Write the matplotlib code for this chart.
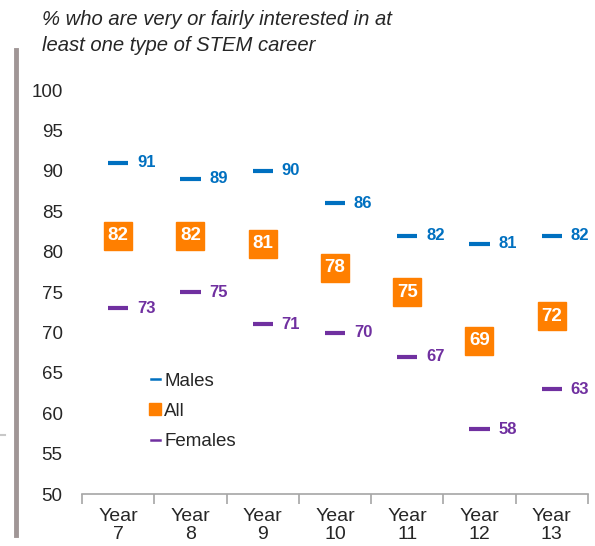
import matplotlib.pyplot as plt
from matplotlib.lines import Line2D

plt.rcParams['font.family'] = ['Liberation Sans', 'DejaVu Sans']

years = ['Year\n7', 'Year\n8', 'Year\n9', 'Year\n10', 'Year\n11', 'Year\n12', 'Year\n13']
males = [91, 89, 90, 86, 82, 81, 82]
all_pupils = [82, 82, 81, 78, 75, 69, 72]
females = [73, 75, 71, 70, 67, 58, 63]

blue = '#0070C0'
orange = '#FF7F00'
purple = '#7030A0'

fig = plt.figure(figsize=(5.95, 5.46), dpi=100)
ax = fig.add_axes([0.138, 0.095, 0.850, 0.740])

x = list(range(len(years)))
half = 0.14
ax.hlines(males, [i - half for i in x], [i + half for i in x], color=blue, lw=3)
ax.hlines(females, [i - half for i in x], [i + half for i in x], color=purple, lw=3)
ax.plot(x, all_pupils, 's', color=orange, ms=20, ls='none')

for i in x:
    ax.text(i + 0.26, males[i], str(males[i]), color=blue, fontsize=12,
            fontweight='bold', ha='left', va='center')
    ax.text(i + 0.26, females[i], str(females[i]), color=purple, fontsize=12,
            fontweight='bold', ha='left', va='center')
    ax.text(i, all_pupils[i], str(all_pupils[i]), color='white', fontsize=13.5,
            fontweight='bold', ha='center', va='center')

ax.set_xlim(-0.5, 6.5)
ax.set_ylim(50, 100)
ax.set_yticks(range(50, 101, 5))
ax.set_xticks(x)
ax.set_xticklabels(years, fontsize=14, color='#262626', linespacing=1.1)
ax.set_xticks([i - 0.5 for i in range(8)], minor=True)
ax.tick_params(axis='x', which='major', length=0, pad=10)
ax.tick_params(axis='x', which='minor', length=7, color='#A6A6A6', width=1.2)
ax.tick_params(axis='y', length=0, labelsize=13.5, labelcolor='#262626', pad=14)
for s in ['top', 'right', 'left']:
    ax.spines[s].set_visible(False)
ax.spines['bottom'].set_color('#A6A6A6')
ax.spines['bottom'].set_linewidth(1.2)

handles = [
    Line2D([], [], color=blue, lw=1.8),
    Line2D([], [], marker='s', color=orange, ls='none', ms=9),
    Line2D([], [], color=purple, lw=1.8),
]
ax.legend(handles, ['Males', 'All', 'Females'], loc='center left',
          bbox_to_anchor=(0.118, 0.205), frameon=False, fontsize=13.5,
          handlelength=0.45, handletextpad=0.25, labelspacing=0.7, borderpad=0,
          labelcolor='#262626')

fig.text(0.071, 0.982, '% who are very or fairly interested in at\nleast one type of STEM career',
         fontsize=14.6, style='italic', color='#262626', va='top', ha='left', linespacing=1.45)

fig.add_artist(Line2D([0.027, 0.027], [0.02, 0.908], color='#A09696', lw=3.5))
fig.add_artist(Line2D([0.002, 0.008], [0.203, 0.203], color='#C8C8C8', lw=1.5))

plt.savefig('out.png', dpi=100)
